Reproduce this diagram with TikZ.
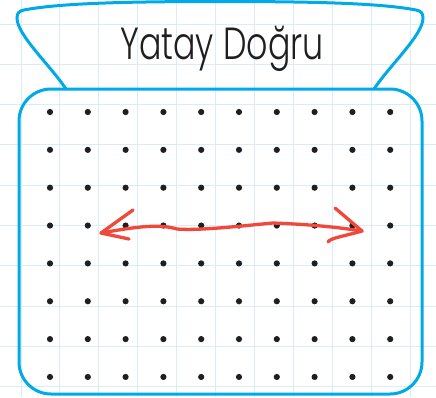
\documentclass[tikz,border=0pt]{standalone}
\usepackage{fontspec}
\usepackage{xcolor}
\newfontfamily\titlefont{Poppins}[UprightFont=* Light]
\definecolor{boxblue}{RGB}{0,170,232}
\definecolor{gridblue}{RGB}{216,236,250}
\definecolor{penred}{RGB}{240,72,58}
\definecolor{dotgray}{RGB}{32,30,30}
\tikzset{
  gridline/.style={gridblue, line width=1},
  boxline/.style={boxblue, line width=3},
  penline/.style={penred, line width=3.3, line cap=round, line join=round},
  dotmark/.style={fill=dotgray}
}
\begin{document}
\begin{tikzpicture}[x=1pt, y=-1pt]
\useasboundingbox (0,0) rectangle (436,397);
\foreach \gx in {0,...,10}
  \draw[gridline] ({21+38.9*\gx},0) -- ({21+38.9*\gx},397);
\foreach \gy in {0,...,9}
  \draw[gridline] (0,{24+40.3*\gy}) -- (436,{24+40.3*\gy});

\draw[boxline] (66,89) .. controls (50,65) and (17,35) .. (17,18)
  .. controls (17,13) and (19,11) .. (24,10)
  .. controls (60,3) and (130,1.5) .. (220,1.5)
  .. controls (310,1.5) and (380,3) .. (416,10)
  .. controls (421,11) and (423,13) .. (423,18)
  .. controls (423,35) and (390,65) .. (374,89);
\draw[boxline, rounded corners=32] (19,89) rectangle (422,394);

\node[text=dotgray] (title) at (222,49) {\titlefont\fontsize{45}{45}\selectfont\scalebox{0.74}[1]{Yatay Doğru}};

\foreach \i in {0,...,9}
  \foreach \j in {0,...,7}
    \fill[dotmark] ({50+37.8*\i},{112+37.85*\j}) circle (3.1);

\coordinate (lefttip) at (101,233);
\coordinate (righttip) at (362,231);
\draw[penline] (lefttip) .. controls (140,226) and (160,224) .. (177,229)
  .. controls (200,231) and (250,225) .. (273,223)
  .. controls (300,224) and (330,226) .. (righttip);
\draw[penline] (133,210) -- (lefttip) -- (129,239);
\draw[penline] (335,208) -- (righttip) .. controls (345,236) and (330,238) .. (328,242);
\end{tikzpicture}
\end{document}
